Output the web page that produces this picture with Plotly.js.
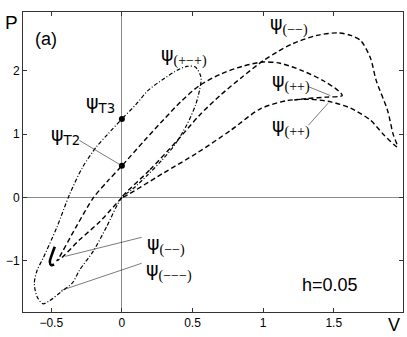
<!DOCTYPE html>
<html>
<head>
<meta charset="utf-8">
<script src="https://cdn.plot.ly/plotly-3.0.1.min.js"></script>
<style>
  html, body { margin: 0; padding: 0; background: #fff; }
  #chart { width: 407px; height: 337px; }
</style>
</head>
<body>
<div id="chart"></div>
<script>
// dash-dot loop, psi(+-+) on top and psi(---) below
const dotDashV = [0, -0.11, -0.2, -0.3, -0.35, -0.43, -0.51, -0.56, -0.6, -0.62, -0.6, -0.56, -0.46, -0.37, -0.28, -0.18, -0.1, 0, 0.1, 0.19, 0.3, 0.4, 0.46, 0.52, 0.56, 0.55, 0.52, 0.46, 0.38, 0.28, 0.18, 0.08, 0];
const dotDashP = [0, -0.47, -0.84, -1.15, -1.35, -1.49, -1.63, -1.68, -1.57, -1.36, -1.15, -0.97, -0.47, 0.05, 0.47, 0.8, 1.0, 1.24, 1.47, 1.7, 1.88, 2.02, 2.07, 2.06, 1.9, 1.7, 1.45, 1.15, 0.85, 0.58, 0.35, 0.14, 0];

// dashed loop through psiT2, turning at the thick tip, rejoining the lower arch
const loopT2V = [0, -0.16, -0.3, -0.42, -0.46, -0.45, -0.32, -0.2, -0.1, 0, 0.16, 0.3, 0.42, 0.55, 0.7, 0.85, 1.0, 1.12, 1.28, 1.43, 1.53, 1.56, 1.45, 1.32, 1.22];
const loopT2P = [0, -0.39, -0.67, -0.94, -1.0, -0.97, -0.45, 0, 0.26, 0.5, 0.9, 1.24, 1.52, 1.77, 1.95, 2.07, 2.14, 2.12, 2.0, 1.84, 1.69, 1.61, 1.585, 1.565, 1.54];

// big dashed loop psi(--)
const bigLoopV = [0, 0.2, 0.4, 0.55, 0.7, 0.85, 1.0, 1.1, 1.21, 1.38, 1.53, 1.62, 1.69, 1.76, 1.8, 1.88, 1.92, 1.95, 1.85, 1.76, 1.62, 1.48, 1.33, 1.17, 0.98, 0.77, 0.53, 0.29, 0];
const bigLoopP = [0, 0.44, 0.92, 1.3, 1.62, 1.9, 2.16, 2.3, 2.43, 2.56, 2.6, 2.56, 2.48, 2.2, 1.85, 1.38, 1.0, 0.8, 1.0, 1.22, 1.41, 1.51, 1.55, 1.53, 1.4, 1.06, 0.7, 0.38, 0];

// thick turning piece of psi(--)
const tipV = [-0.475, -0.495, -0.51, -0.5, -0.48];
const tipP = [-0.78, -0.9, -1.02, -1.07, -1.06];

// marked points psiT2, psiT3
const markV = [0, 0];
const markP = [0.5, 1.24];

// leader lines [V0, P0, V1, P1]
const leaders = [
  [-0.3, 0.9, 0, 0.5],
  [0.14, -0.63, -0.4, -0.93],
  [0.14, -1.04, -0.43, -1.47],
  [1.32, 1.75, 1.475, 1.61],
  [1.32, 1.14, 1.46, 1.49]
];

// psi labels [V, P, subscript]
const psiLabels = [
  [-0.15, 1.49, "T3"],
  [-0.4, 0.98, "T2"],
  [0.44, 2.24, "(+\u2212+)"],
  [1.18, 2.72, "(\u2212\u2212)"],
  [1.2, 1.82, "(++)"],
  [1.2, 1.11, "(++)"],
  [0.31, -0.75, "(\u2212\u2212)"],
  [0.33, -1.16, "(\u2212\u2212\u2212)"]
];

const DASH = "5px,3px";
const DASHDOT = "4px,2px,1px,2px";

const traces = [
  {
    x: dotDashV, y: dotDashP, mode: "lines", type: "scatter",
    line: { color: "#000", width: 1.2, dash: DASHDOT, shape: "spline", smoothing: 0.8 },
    hoverinfo: "skip"
  },
  {
    x: loopT2V, y: loopT2P, mode: "lines", type: "scatter",
    line: { color: "#000", width: 1.4, dash: DASH, shape: "spline", smoothing: 0.8 },
    hoverinfo: "skip"
  },
  {
    x: bigLoopV, y: bigLoopP, mode: "lines", type: "scatter",
    line: { color: "#000", width: 1.4, dash: DASH, shape: "spline", smoothing: 0.8 },
    hoverinfo: "skip"
  },
  {
    x: tipV, y: tipP, mode: "lines", type: "scatter",
    line: { color: "#000", width: 2.6, shape: "spline" },
    hoverinfo: "skip"
  },
  {
    x: markV, y: markP, mode: "markers", type: "scatter",
    marker: { color: "#000", size: 6 },
    hoverinfo: "skip"
  }
];

const shapes = leaders.map(([x0, y0, x1, y1]) => ({
  type: "line", xref: "x", yref: "y", x0, y0, x1, y1,
  line: { color: "#222", width: 0.6 }
}));

const annotations = psiLabels.map(([v, p, sub]) => ({
  x: v, y: p, xref: "x", yref: "y", showarrow: false,
  xanchor: "center", yanchor: "middle",
  text: sub.length < 3
    ? `\u03c8<sub>${sub}</sub>`
    : `\u03c8<sub><span style="font-family:'Liberation Serif';font-size:14px">${sub}</span></sub>`,
  font: { family: "DejaVu Sans", size: 19, color: "#000" }
}));

annotations.push(
  { x: 0, y: 1, xref: "paper", yref: "paper", xanchor: "right", yanchor: "top", xshift: -3, yshift: 2,
    showarrow: false, text: "P", font: { family: "Liberation Sans", size: 19, color: "#000" } },
  { x: 1, y: 0, xref: "paper", yref: "paper", xanchor: "right", yanchor: "top", xshift: -1, yshift: -1,
    showarrow: false, text: "V", font: { family: "Liberation Sans", size: 18, color: "#000" } },
  { x: -0.54, y: 2.5, xref: "x", yref: "y", showarrow: false,
    text: "(a)", font: { family: "Liberation Sans", size: 18, color: "#000" } },
  { x: 1.475, y: -1.38, xref: "x", yref: "y", showarrow: false,
    text: "h=0.05", font: { family: "Liberation Sans", size: 18, color: "#000" } }
);

const axisBase = {
  showgrid: false,
  zeroline: true, zerolinecolor: "#8a8a8a", zerolinewidth: 1,
  showline: true, linecolor: "#333", linewidth: 1, mirror: "ticks",
  ticks: "inside", ticklen: 4, tickcolor: "#333",
  tickfont: { family: "Liberation Sans", size: 12, color: "#000" }
};

const layout = {
  width: 407, height: 337,
  margin: { l: 23, r: 4, t: 12, b: 25 },
  paper_bgcolor: "#fff", plot_bgcolor: "#fff",
  showlegend: false,
  xaxis: Object.assign({}, axisBase, {
    range: [-0.7, 1.99],
    tickvals: [-0.5, 0, 0.5, 1, 1.5],
    ticktext: ["\u22120.5", "0", "0.5", "1", "1.5"]
  }),
  yaxis: Object.assign({}, axisBase, {
    range: [-1.81, 2.93],
    tickvals: [-1, 0, 1, 2],
    ticktext: ["\u22121", "0", "1", "2"]
  }),
  shapes: shapes,
  annotations: annotations
};

Plotly.newPlot("chart", traces, layout, { displayModeBar: false, staticPlot: true });
</script>
</body>
</html>
